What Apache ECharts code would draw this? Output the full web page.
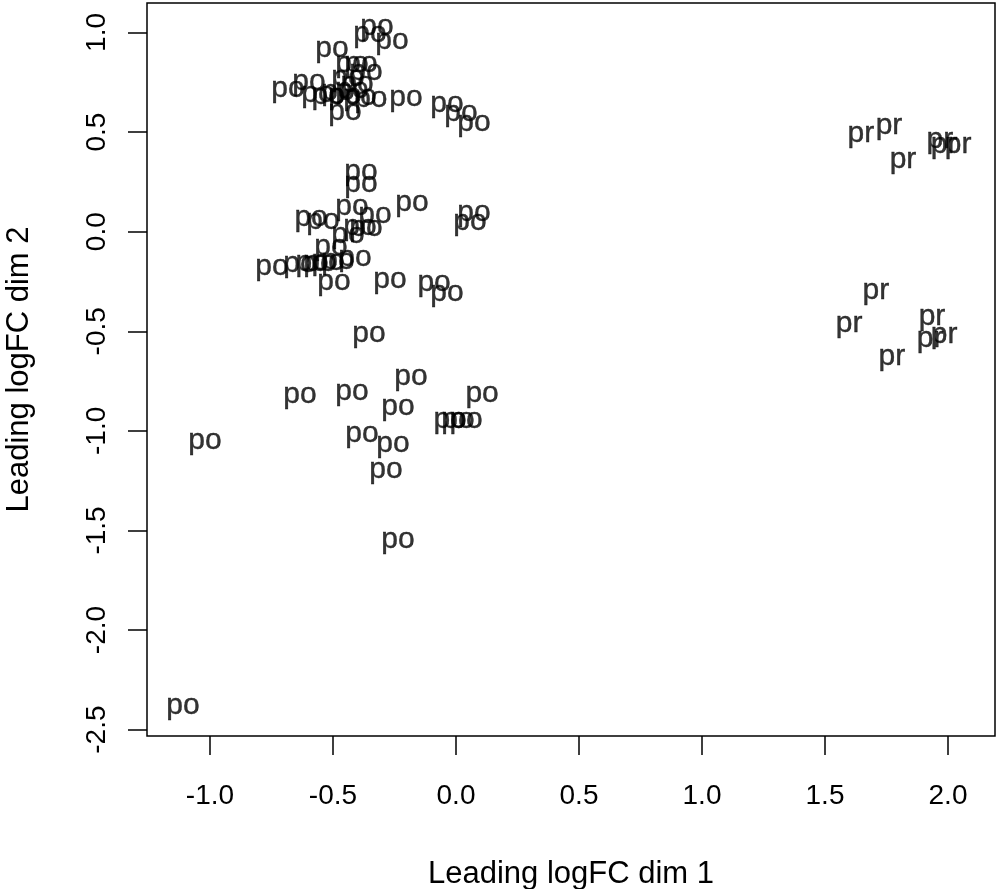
<!DOCTYPE html>
<html>
<head>
<meta charset="utf-8">
<script src="https://cdn.jsdelivr.net/npm/echarts@6/dist/echarts.min.js"></script>
<style>
html,body{margin:0;padding:0;background:#fff;}
#chart{width:998px;height:889px;}
</style>
</head>
<body>
<div id="chart"></div>
<script>
// Sample group labels and MDS coordinates (Leading logFC dim 1 / dim 2)
const poX = [-0.321,-0.350,-0.260,-0.504,-0.423,-0.386,-0.366,-0.439,-0.402,-0.683,-0.598,-0.561,-0.520,-0.480,-0.451,-0.423,-0.390,-0.346,-0.451,-0.203,-0.037,0.020,0.073,
  -0.386,-0.386,-0.179,0.073,0.057,-0.589,-0.541,-0.423,-0.329,-0.390,-0.366,-0.439,-0.508,-0.411,-0.748,-0.634,-0.585,-0.553,-0.520,-0.480,-0.496,-0.268,-0.089,-0.037,-0.354,
  -0.634,-0.423,-0.183,0.106,-0.236,-0.024,0.008,0.041,-0.382,-0.256,-0.285,-0.236,-1.020,-1.110];
const poY = [1.037,1.002,0.967,0.927,0.851,0.851,0.811,0.781,0.751,0.726,0.761,0.701,0.691,0.711,0.691,0.721,0.686,0.676,0.610,0.681,0.651,0.605,0.555,
  0.309,0.249,0.154,0.103,0.058,0.078,0.063,0.134,0.093,0.033,0.028,-0.007,-0.067,-0.122,-0.168,-0.153,-0.148,-0.148,-0.143,-0.138,-0.243,-0.233,-0.248,-0.298,-0.504,
  -0.811,-0.796,-0.720,-0.805,-0.871,-0.936,-0.936,-0.936,-1.006,-1.056,-1.187,-1.538,-1.042,-2.372];
const prX = [1.646,1.760,1.817,1.967,1.984,2.041,1.707,1.598,1.935,1.927,1.984,1.772];
const prY = [0.500,0.540,0.369,0.474,0.444,0.444,-0.289,-0.454,-0.419,-0.530,-0.509,-0.620];
const groupNames = ['po','pr'];
const xTicks = [-1.0,-0.5,0.0,0.5,1.0,1.5,2.0];
const yTicks = [-2.5,-2.0,-1.5,-1.0,-0.5,0.0,0.5,1.0];
const xTitle = 'Leading logFC dim 1';
const yTitle = 'Leading logFC dim 2';
const xLim = [-1.256, 2.191];
const yLim = [-2.532, 1.148];

const FONT = '"Liberation Sans", Arial, Helvetica, sans-serif';
function pairs(xs, ys){ return xs.map((x,i)=>[x, ys[i]]); }
function labelSeries(name, xs, ys){
  return {
    name: name, type: 'scatter', data: pairs(xs, ys),
    symbol: 'circle', symbolSize: 0, itemStyle: {color: '#000'},
    silent: true,
    label: {show: true, position: 'inside', formatter: name, color: '#000',
      textBorderColor: '#000', textBorderWidth: 0.4, fontSize: 30, fontFamily: FONT, offset: [0, 2]},
    emphasis: {disabled: true}
  };
}
const chart = echarts.init(document.getElementById('chart'), null, {renderer: 'canvas'});
chart.setOption({
  animation: false,
  backgroundColor: '#fff',
  grid: {left: 147, right: 3, top: 3, bottom: 153, outerBoundsMode: 'none', containLabel: false,
    show: true, borderColor: '#000', borderWidth: 1.5, backgroundColor: 'transparent'},
  xAxis: {
    type: 'value', min: xLim[0], max: xLim[1],
    name: xTitle, nameLocation: 'middle', nameGap: 123,
    nameTextStyle: {fontSize: 31, fontFamily: FONT, color: '#000'},
    axisLine: {show: false, onZero: false}, splitLine: {show: false},
    axisTick: {show: true, length: 19, inside: false, customValues: xTicks, lineStyle: {color: '#000', width: 1.5}},
    axisLabel: {show: true, customValues: xTicks, margin: 46, fontSize: 28, fontFamily: FONT, color: '#000',
      formatter: v => v.toFixed(1)}
  },
  yAxis: {
    type: 'value', min: yLim[0], max: yLim[1],
    name: yTitle, nameLocation: 'middle', nameGap: 112, nameRotate: 90,
    nameTextStyle: {fontSize: 31, fontFamily: FONT, color: '#000'},
    axisLine: {show: false, onZero: false}, splitLine: {show: false},
    axisTick: {show: true, length: 19, customValues: yTicks, lineStyle: {color: '#000', width: 1.5}},
    axisLabel: {show: true, customValues: yTicks, margin: 36, rotate: 90, fontSize: 28, fontFamily: FONT, color: '#000',
      formatter: v => v.toFixed(1)}
  },
  series: [labelSeries(groupNames[0], poX, poY), labelSeries(groupNames[1], prX, prY)]
});
</script>
</body>
</html>
